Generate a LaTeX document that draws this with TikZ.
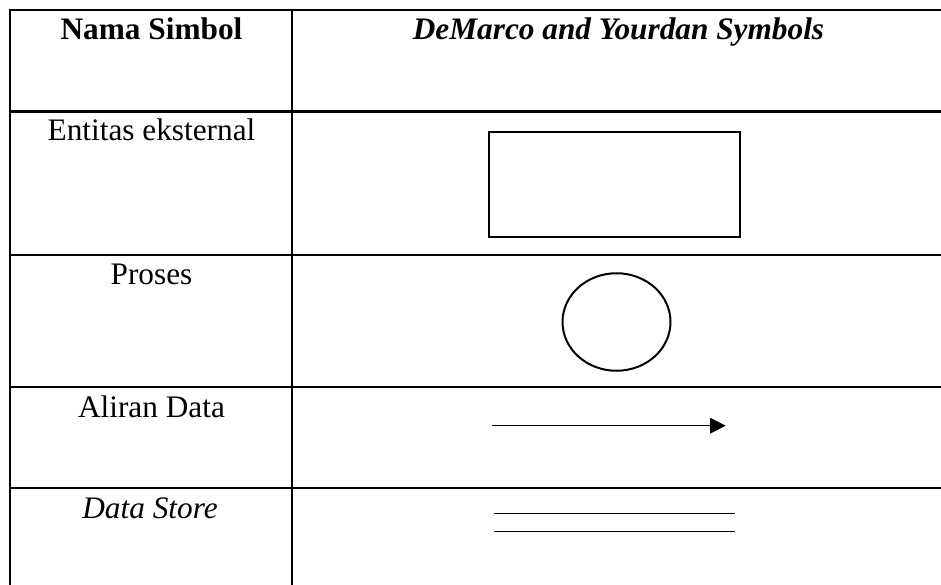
\documentclass[tikz,border=0pt]{standalone}
\usepackage{fontspec}
\setmainfont{Liberation Serif}
\usetikzlibrary{arrows.meta,shapes.geometric}
\begin{document}
\begin{tikzpicture}[x=1pt,y=-1pt,
  grid/.style={line width=2.2pt},
  cell/.style={anchor=base,inner sep=0pt,font=\fontsize{31.3}{36}\selectfont},
  shapeline/.style={line width=2pt},
  thinline/.style={line width=1.2pt}]
\useasboundingbox (0,0) rectangle (941,585);
% table grid
\draw[grid] (10,585) -- (10,10) -- (945,10);
\draw[grid] (292,10) -- (292,585);
\foreach \yy in {111.5,255,386.7,488}{\draw[grid] (10,\yy) -- (945,\yy);}
% header
\node[cell,font=\fontsize{31.3}{36}\selectfont\bfseries] (h1) at (151.5,39.3) {Nama Simbol};
\node[cell,font=\fontsize{31.3}{36}\selectfont\bfseries\itshape] (h2) at (618.5,39.3) {DeMarco and Yourdan Symbols};
% labels
\node[cell] (l1) at (151.5,140.7) {Entitas eksternal};
\node[cell] (l2) at (151.5,284.5) {Proses};
\node[cell] (l3) at (151.5,417.3) {Aliran Data};
\node[cell,font=\fontsize{31.3}{36}\selectfont\itshape] (l4) at (150,518.3) {Data Store};
% symbols
\node[draw,shapeline,minimum width=251pt,minimum height=105pt,inner sep=0pt] (ent) at (614.5,184.5) {};
\node[draw,shapeline,ellipse,minimum width=108pt,minimum height=97.5pt,inner sep=0pt] (proc) at (616.5,322) {};
\coordinate (a1) at (491.7,425.7);
\coordinate (a2) at (725.7,425.7);
\draw[thinline,-{Triangle[length=15.7pt,width=15.7pt]}] (a1) -- (a2);
\coordinate (d1) at (494,513.7);
\coordinate (d2) at (734.7,513.7);
\coordinate (d3) at (494,531.7);
\coordinate (d4) at (734.7,531.7);
\draw[thinline,line width=1.4pt] (d1) -- (d2);
\draw[thinline,line width=1.4pt] (d3) -- (d4);
\end{tikzpicture}
\end{document}
